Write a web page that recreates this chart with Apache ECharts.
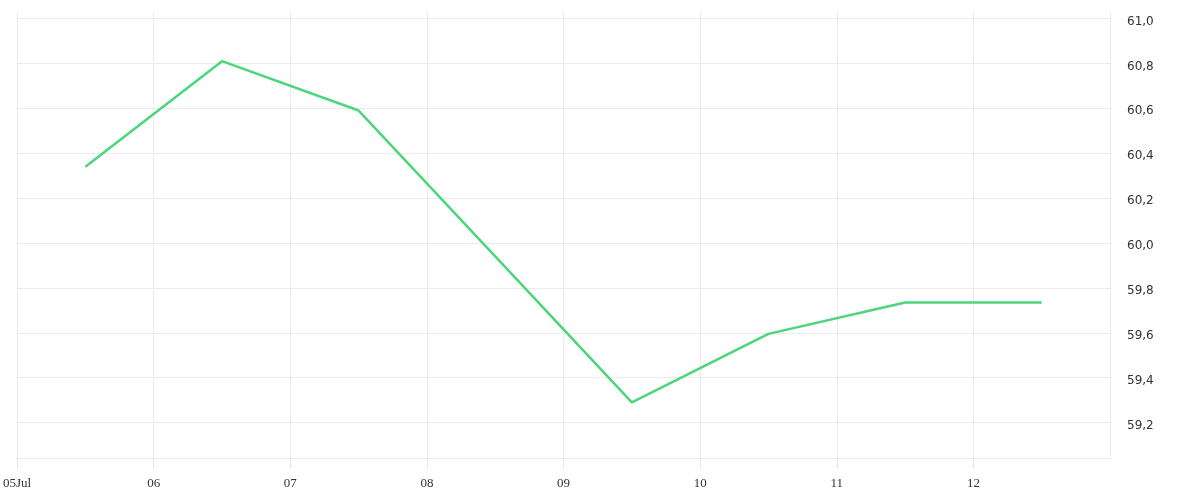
<!DOCTYPE html>
<html>
<head>
<meta charset="utf-8">
<script src="https://cdn.jsdelivr.net/npm/echarts@6/dist/echarts.min.js"></script>
<style>html,body{margin:0;padding:0;background:#fff}#c{width:1200px;height:500px}</style>
</head>
<body>
<div id="c"></div>
<script>
var dates = ['2024-07-05T12:00:00Z','2024-07-06T12:00:00Z','2024-07-07T12:00:00Z','2024-07-08T12:00:00Z','2024-07-09T12:00:00Z','2024-07-10T12:00:00Z','2024-07-11T12:00:00Z','2024-07-12T12:00:00Z'];
var values = [60.34, 60.81, 60.59, 59.94, 59.29, 59.595, 59.735, 59.735];
var xStart = '2024-07-05T00:00:00Z';
var xEnd = '2024-07-13T00:00:00Z';
var monthNames = ['Jan','Feb','Mar','Apr','May','Jun','Jul','Aug','Sep','Oct','Nov','Dec'];
var yMin = 59.042, yMax = 61.029;

var DAY = 86400000;
var seriesData = dates.map(function (d, i) { return [Date.parse(d), values[i]]; });
var grid = '#ebebeb';

var chart = echarts.init(document.getElementById('c'), null, {renderer: 'canvas'});
chart.setOption({
  animation: false,
  backgroundColor: '#fff',
  grid: {left: 14, right: 90, top: 12, bottom: 42, containLabel: false},
  xAxis: {
    type: 'value',
    min: Date.parse(xStart),
    max: Date.parse(xEnd),
    interval: DAY,
    axisLine: {show: true, lineStyle: {color: grid, width: 1}},
    axisTick: {show: true, length: 10, lineStyle: {color: '#e6e6e6', width: 1}},
    splitLine: {show: true, lineStyle: {color: grid, width: 1}},
    axisLabel: {
      showMaxLabel: false,
      margin: 19,
      color: '#333',
      fontFamily: 'Liberation Serif',
      fontSize: 13,
      formatter: function (v) {
        var d = new Date(v);
        var dd = ('0' + d.getUTCDate()).slice(-2);
        if (v === Date.parse(xStart)) return dd + monthNames[d.getUTCMonth()];
        return dd;
      }
    }
  },
  yAxis: {
    type: 'value',
    position: 'right',
    min: yMin,
    max: yMax,
    splitNumber: 10,
    minInterval: 0.2,
    maxInterval: 0.2,
    axisLine: {show: false},
    axisTick: {show: false},
    splitLine: {show: true, showMinLine: true, showMaxLine: false, lineStyle: {color: grid, width: 1}},
    axisLabel: {
      showMinLabel: false,
      showMaxLabel: false,
      margin: 17,
      color: '#333',
      fontFamily: 'DejaVu Sans',
      fontSize: 12,
      formatter: function (v) { return '{v|' + v.toFixed(1).replace('.', ',') + '}'; },
      rich: {
        v: {padding: [6, 0, 0, 0], fontFamily: 'DejaVu Sans', fontSize: 12, color: '#333'}
      }
    }
  },
  series: [{
    type: 'line',
    data: seriesData,
    showSymbol: false,
    symbol: 'none',
    lineStyle: {color: '#4cd67b', width: 2.5},
    itemStyle: {color: '#4cd67b'}
  }]
});
</script>
</body>
</html>
